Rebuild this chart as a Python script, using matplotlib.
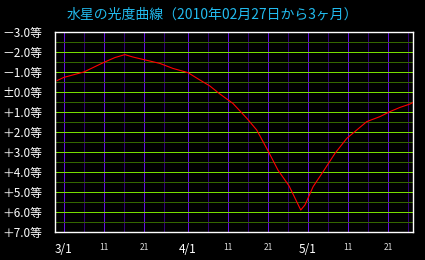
import matplotlib
matplotlib.use("Agg")
import matplotlib.pyplot as plt

plt.rcParams["font.family"] = ["Noto Sans CJK JP", "DejaVu Sans"]

# days counted from 3/1 (day 0), magnitudes
days = [-1.7, 0, 5, 10, 12.75, 15.25, 17.25, 19.75, 24, 27.25, 31, 34, 36.5, 39,
        42.25, 45.75, 48.2, 51, 53.5, 56.3, 59.2, 60.25, 62.3, 64.8, 67.75, 70.7,
        73.2, 75.7, 79, 81.5, 84, 86.5, 87.2]
mags = [-0.57, -0.73, -1.0, -1.48, -1.72, -1.87, -1.75, -1.63, -1.43, -1.18, -0.97,
        -0.6, -0.3, 0.1, 0.57, 1.32, 1.9, 2.93, 3.9, 4.7, 5.9, 5.65, 4.73, 3.98,
        3.07, 2.32, 1.9, 1.48, 1.23, 0.98, 0.77, 0.6, 0.53]

major_days = [0, 10, 20, 31, 41, 51, 61, 71, 81]
major_labels = ["3/1", "11", "21", "4/1", "11", "21", "5/1", "11", "21"]
minor_days = [5, 15, 25, 36, 46, 56, 66, 76, 86]

mag_ticks = [-3, -2, -1, 0, 1, 2, 3, 4, 5, 6, 7]
mag_labels = ["－3.0等", "－2.0等", "－1.0等", "±0.0等", "＋1.0等", "＋2.0等",
              "＋3.0等", "＋4.0等", "＋5.0等", "＋6.0等", "＋7.0等"]
mag_minor = [-2.5, -1.5, -0.5, 0.5, 1.5, 2.5, 3.5, 4.5, 5.5, 6.5]

fig = plt.figure(figsize=(4.25, 2.6), dpi=100, facecolor="black")
ax = fig.add_axes([55 / 425, 28 / 260, 358 / 425, 200 / 260], facecolor="black")

for d in minor_days:
    ax.axvline(d, color="#330077", lw=0.7, zorder=1, antialiased=False)
for d in major_days:
    ax.axvline(d, color="#6611DD", lw=0.7, zorder=1, antialiased=False)
for m in mag_minor:
    ax.axhline(m, color="#336600", lw=0.7, zorder=2, antialiased=False)
for m in mag_ticks:
    ax.axhline(m, color="#77DD00", lw=0.7, zorder=2, antialiased=False)

ax.plot(days, mags, color="#FF0000", lw=0.8, zorder=3)

ax.set_xlim(-2.2, 87.25)
ax.set_ylim(7, -3)

ax.set_yticks(mag_ticks)
ax.set_yticklabels(mag_labels, color="white", fontsize=8.5)
ax.set_xticks(major_days)
ax.set_xticklabels(major_labels, color="white")
for lab in ax.get_xticklabels():
    if "/" in lab.get_text():
        lab.set_fontsize(8.5)
    else:
        lab.set_fontsize(6)
        lab.set_color("#dddddd")
ax.tick_params(length=0, pad=8)
ax.tick_params(axis="y", pad=9)

for s in ax.spines.values():
    s.set_color("white")
    s.set_linewidth(1)

fig.text(212 / 425, 1 - 15 / 260, "水星の光度曲線（2010年02月27日から3ヶ月）",
         color="#22BBEE", fontsize=10, ha="center", va="center")

fig.savefig("out.png", dpi=100, facecolor="black")
